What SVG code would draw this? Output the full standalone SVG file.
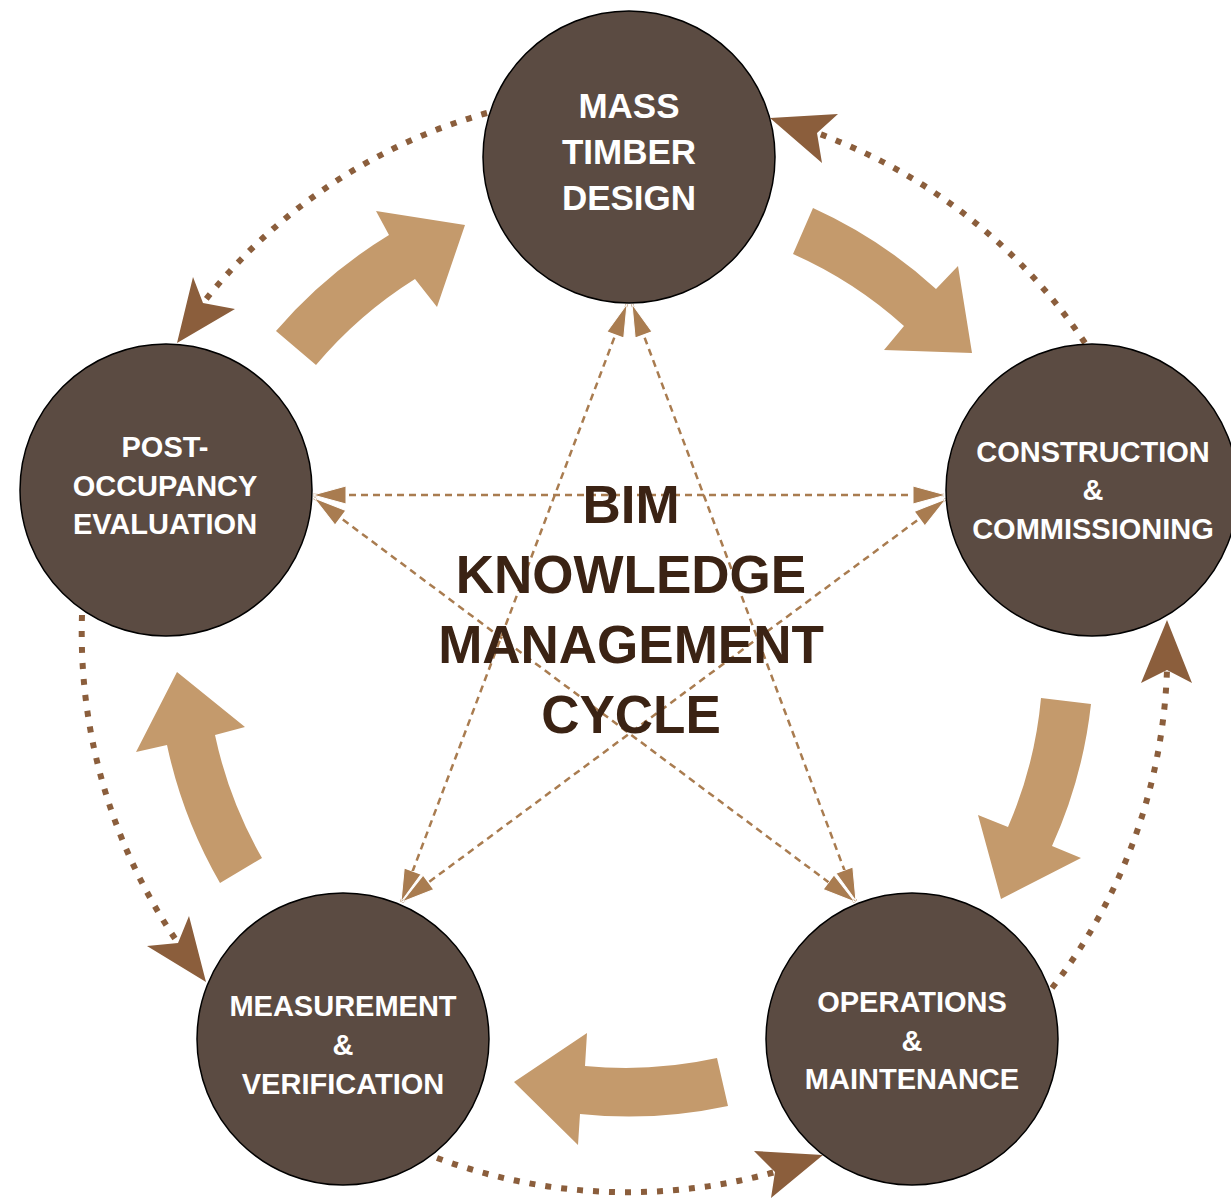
<svg xmlns="http://www.w3.org/2000/svg" width="1231" height="1199" viewBox="0 0 1231 1199">
<style>
.node circle{fill:#5b4b42;stroke:#000;stroke-width:1.5}
.lbl{font-family:"Liberation Sans",Arial,sans-serif;font-weight:bold;fill:#fff;text-anchor:middle;font-size:29px}
.lbl-top{font-size:35px}
.title{font-family:"Liberation Sans",Arial,sans-serif;font-weight:bold;fill:#3b2314;text-anchor:middle;font-size:53px}
.big{fill:#c49a6c}
.dot{fill:none;stroke:#8b5e3c;stroke-width:6;stroke-dasharray:6 10}
.head{fill:#8b5e3c}
.dash{fill:none;stroke:#a97c50;stroke-width:2.5;stroke-dasharray:7 5;marker-start:url(#tri);marker-end:url(#tri)}
</style>
<defs>
<marker id="tri" markerUnits="userSpaceOnUse" viewBox="0 -12 40 24" markerWidth="40" markerHeight="24" refX="33" refY="0" orient="auto-start-reverse">
<path d="M0,-9 L33,0 L0,9 Z" fill="#a97c50" stroke="#fff" stroke-width="1"/>
</marker>
</defs>
<rect width="1231" height="1199" fill="#fff"/>
<g id="connectors">
<path class="big" d="M813,208 A470,470 0 0 1 936,289 L958,266 L972,353 L884,350 L904,326 A421,421 0 0 0 793,254 Z"/>
<path class="big" d="M1091,704 A468,468 0 0 1 1052,846 L1081,858 L1001,899 L978,815 L1008,827 A418,418 0 0 0 1041,698 Z"/>
<path class="big" d="M728,1106 A473,473 0 0 1 580,1114 L578,1145 L514,1082 L587,1033 L585,1066 A424,424 0 0 0 717,1058 Z"/>
<path class="big" d="M220,883 A473,473 0 0 1 167,745 L136,752 L177,672 L245,727 L215,735 A424,424 0 0 0 262,858 Z"/>
<path class="big" d="M276,331 A473,473 0 0 1 389,235 L376,211 L465,225 L437,307 L415,279 A424,424 0 0 0 316,365 Z"/>
<path class="dot" d="M487,113 A548,548 0 0 0 203,303"/>
<polygon class="head" points="177,343 193,277 203,303 235,309"/>
<path class="dot" d="M1085,343 A548,548 0 0 0 817,133"/>
<polygon class="head" points="770,118 838,114 817,133 822,163"/>
<path class="dot" d="M1052,988 A548,548 0 0 0 1167,670"/>
<polygon class="head" points="1167,620 1192,683 1167,670 1141,683"/>
<path class="dot" d="M437,1158 A548,548 0 0 0 775,1172"/>
<polygon class="head" points="823,1155 771,1198 775,1172 754,1151"/>
<path class="dot" d="M82,615 A548,548 0 0 0 178,943"/>
<polygon class="head" points="206,982 147,946 178,943 189,916"/>
<line class="dash" x1="627" y1="304" x2="401" y2="902"/>
<line class="dash" x1="632" y1="304" x2="856" y2="901"/>
<line class="dash" x1="313" y1="495" x2="946" y2="495"/>
<line class="dash" x1="314" y1="498" x2="855" y2="902"/>
<line class="dash" x1="946" y1="499" x2="402" y2="902"/>
</g>
<g id="title">
<text class="title" x="631" y="523">BIM</text>
<text class="title" x="631" y="593">KNOWLEDGE</text>
<text class="title" x="631" y="663">MANAGEMENT</text>
<text class="title" x="631" y="733">CYCLE</text>
</g>
<g id="node-design" class="node">
<circle cx="629" cy="157" r="146"/>
<text class="lbl lbl-top" x="629" y="118">MASS</text>
<text class="lbl lbl-top" x="629" y="164">TIMBER</text>
<text class="lbl lbl-top" x="629" y="210">DESIGN</text>
</g>
<g id="node-construction" class="node">
<circle cx="1092" cy="490" r="146"/>
<text class="lbl" x="1093" y="462">CONSTRUCTION</text>
<text class="lbl" x="1093" y="500">&amp;</text>
<text class="lbl" x="1093" y="539">COMMISSIONING</text>
</g>
<g id="node-operations" class="node">
<circle cx="912" cy="1039" r="146"/>
<text class="lbl" x="912" y="1012">OPERATIONS</text>
<text class="lbl" x="912" y="1051">&amp;</text>
<text class="lbl" x="912" y="1089">MAINTENANCE</text>
</g>
<g id="node-measurement" class="node">
<circle cx="343" cy="1039" r="146"/>
<text class="lbl" x="343" y="1016">MEASUREMENT</text>
<text class="lbl" x="343" y="1055">&amp;</text>
<text class="lbl" x="343" y="1094">VERIFICATION</text>
</g>
<g id="node-post" class="node">
<circle cx="166" cy="490" r="146"/>
<text class="lbl" x="165" y="457">POST-</text>
<text class="lbl" x="165" y="496">OCCUPANCY</text>
<text class="lbl" x="165" y="534">EVALUATION</text>
</g>
</svg>
